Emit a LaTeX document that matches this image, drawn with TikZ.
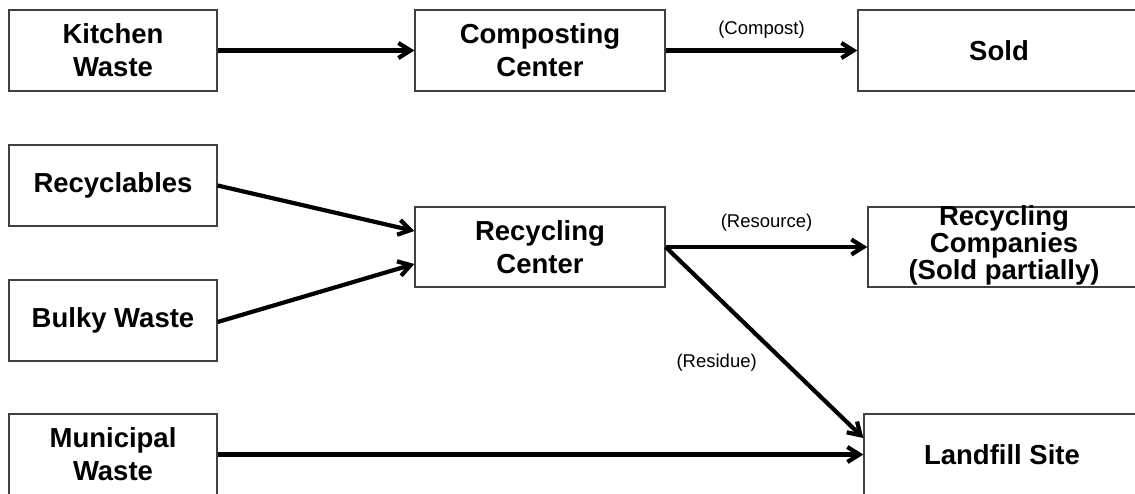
\documentclass[tikz,border=0pt]{standalone}
\usepackage{fontspec}
\setmainfont{Liberation Sans}
\usetikzlibrary{arrows.meta}

\begin{document}
\begin{tikzpicture}[x=1pt, y=-1pt,
  box/.style={draw=black!75, line width=1.3pt, rectangle, inner sep=0pt,
    minimum height=81pt, align=center,
    font=\fontsize{27.5}{33}\selectfont\bfseries},
  boxtext/.style={inner sep=0pt, align=center,
    font=\fontsize{27.5}{27}\selectfont\bfseries},
  flow/.style={line width=4.2pt,
    -{Straight Barb[length=12pt, width=15pt, line width=4.2pt]}},
  lab/.style={inner sep=0pt, font=\fontsize{18.5}{22}\selectfont}]

\useasboundingbox (0,0) rectangle (1135,493);
\clip (0,0) rectangle (1135,493);

% left column: sources
\node[box, minimum width=208pt] (kw)  at (113,50.5)  {Kitchen\\Waste};
\node[box, minimum width=208pt] (rec) at (113,185.5) {Recyclables};
\node[box, minimum width=208pt] (bw)  at (113,320.5) {Bulky Waste};
\node[box, minimum width=208pt] (mw)  at (113,454.5) {Municipal\\Waste};

% middle column: facilities
\node[box, minimum width=250pt] (cc) at (540,50.5) {Composting\\Center};
\node[box, minimum width=250pt, minimum height=80pt] (rc) at (540,247) {Recycling\\Center};

% right column: destinations
\node[box, minimum width=282pt] (sold) at (999,50.5) {Sold};
\node[box, minimum width=272pt, minimum height=80pt] (rcomp) at (1004,247) {};
\node[boxtext] at ([yshift=2pt]rcomp.center) {Recycling\\Companies\\(Sold partially)};
\node[box, minimum width=276pt] (lf) at (1002,454.5) {Landfill Site};

% flows
\draw[flow] (kw) -- (cc);
\draw[flow] (cc) -- node[lab, midway, yshift=21pt] {(Compost)} (sold);
\draw[flow] (rec.east) -- ([yshift=16pt]rc.west);
\draw[flow] ([yshift=-1.5pt]bw.east) -- ([yshift=-17pt]rc.west);
\draw[flow] (rc.east) -- node[lab, midway, yshift=24pt] {(Resource)} (rcomp.west);
\draw[flow] (rc.east) -- node[lab, pos=0.607, xshift=-69pt] {(Residue)} ([yshift=16.5pt]lf.west);
\draw[flow] (mw) -- (lf);
\end{tikzpicture}
\end{document}
